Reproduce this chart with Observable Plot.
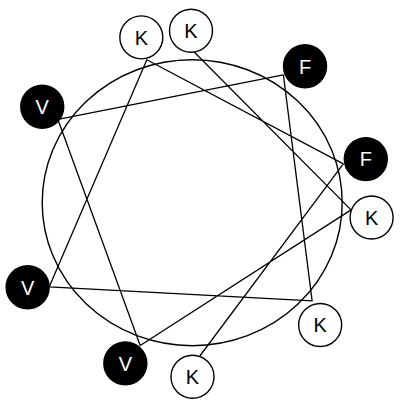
<!DOCTYPE html>
<html>
<head>
<meta charset="utf-8">
<script src="https://cdn.jsdelivr.net/npm/d3@7"></script>
<script src="https://cdn.jsdelivr.net/npm/@observablehq/plot@0.6"></script>
<style>
  html, body { margin: 0; padding: 0; background: #fff; }
  #chart svg { display: block; }
</style>
</head>
<body>
<div id="chart"></div>
<script>
// Helical wheel: residues in sequence order
const sequence = ["K", "K", "V", "V", "F", "K", "V", "K", "F", "K"];
const hydrophobic = [false, false, true, true, true, false, true, false, true, false];
// angle (degrees clockwise from top) and distance from wheel centre of each residue disc
const residueAngle = [-0.4, 94.7, 202.6, 302.6, 39.6, 133.7, 242.8, 342.9, 75.9, 179.9];
const residueRadius = [172, 180, 174, 178, 177, 177, 185, 173, 179, 174];
// angle and distance of the backbone vertex where the connecting line meets each residue
const bondAngle = [-0.1, 92.6, 200.0, 301.8, 35.5, 129.3, 239.5, 342.4, 75.6, 177.0];
const bondRadius = [153, 159, 152, 158, 157, 155, 166, 150, 156, 153];
// wheel centre
const wheelCentre = [{ x: 0, y: 0 }];

const rad = d => d * Math.PI / 180;
const residues = sequence.map((aa, i) => ({
  aa, i,
  hydrophobic: hydrophobic[i],
  x: residueRadius[i] * Math.sin(rad(residueAngle[i])),
  y: residueRadius[i] * Math.cos(rad(residueAngle[i]))
}));
const bonds = sequence.map((aa, i) => ({
  i,
  x: bondRadius[i] * Math.sin(rad(bondAngle[i])),
  y: bondRadius[i] * Math.cos(rad(bondAngle[i]))
}));

const plot = Plot.plot({
  width: 400,
  height: 406,
  margin: 0,
  x: { domain: [-191.7, 208.3], axis: null },
  y: { domain: [-203.8, 202.2], axis: null },
  style: { background: "#fff", fontFamily: "'Liberation Sans', Arial, sans-serif" },
  marks: [
    Plot.dot(wheelCentre, { x: "x", y: "y", r: 146.5, fill: "none", stroke: "#000", strokeWidth: 1.4 }),
    Plot.line(bonds, { x: "x", y: "y", stroke: "#000", strokeWidth: 1.3, curve: "linear" }),
    Plot.dot(residues, {
      x: "x", y: "y", r: 21.5,
      fill: d => d.hydrophobic ? "#000" : "#fff",
      stroke: "#000", strokeWidth: 1.4
    }),
    Plot.text(residues, {
      x: "x", y: "y", text: "aa",
      fill: d => d.hydrophobic ? "#fff" : "#000",
      fontSize: 20, dy: 1
    })
  ]
});
document.getElementById("chart").appendChild(plot);
// make the wheel slightly elliptical, as in the reference
const wheel = plot.querySelector('g[aria-label="dot"] circle');
if (wheel) {
  const t = wheel.getAttribute("transform");
  const ell = document.createElementNS("http://www.w3.org/2000/svg", "ellipse");
  if (t) ell.setAttribute("transform", t);
  if (wheel.getAttribute("cx")) ell.setAttribute("cx", wheel.getAttribute("cx"));
  if (wheel.getAttribute("cy")) ell.setAttribute("cy", wheel.getAttribute("cy"));
  ell.setAttribute("rx", 150);
  ell.setAttribute("ry", 143);
  ell.setAttribute("fill", "none");
  ell.setAttribute("stroke", "#000");
  ell.setAttribute("stroke-width", 1.4);
  wheel.replaceWith(ell);
}
</script>
</body>
</html>
